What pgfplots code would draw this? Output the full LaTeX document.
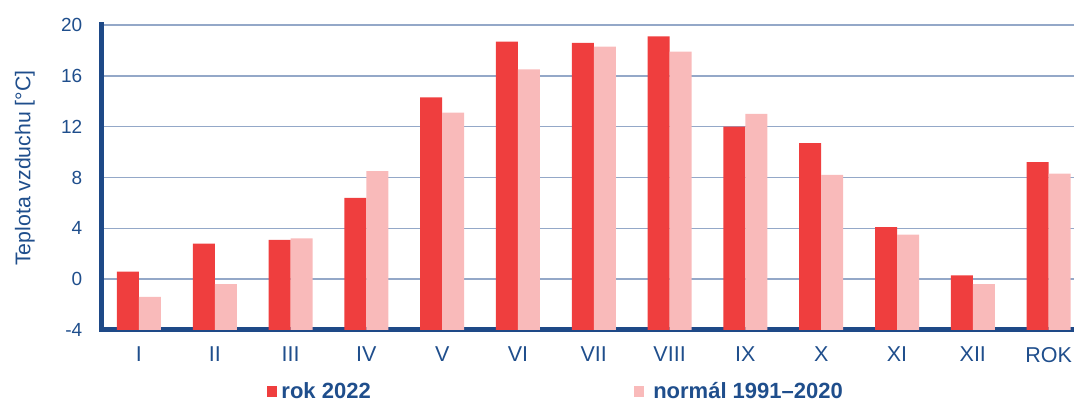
\documentclass[border=0pt]{standalone}
\usepackage{pgfplots}
\pgfplotsset{compat=1.18}
\usepackage{fontspec}
\setmainfont{Liberation Sans}
\definecolor{rokred}{RGB}{239,62,62}
\definecolor{normpink}{RGB}{249,186,186}
\definecolor{axblue}{RGB}{30,73,135}
\definecolor{txtblue}{RGB}{31,78,140}
\definecolor{gridblue}{RGB}{148,168,200}
\begin{document}
\begin{tikzpicture}
\begin{axis}[
  set layers,
  at={(0pt,0pt)}, anchor=south west,
  scale only axis,
  width=973pt, height=305pt,
  xmin=-0.501, xmax=12.335,
  ymin=0, ymax=24,
  y filter/.expression={y+4},
  ytick={0,4,...,24},
  yticklabels={-4,0,4,8,12,16,20},
  xtick={0,...,12},
  xticklabels={I,II,III,IV,V,VI,VII,VIII,IX,X,XI,XII,ROK},
  ybar=0pt, bar width=22pt,
  axis x line*=bottom, axis y line*=left,
  axis line style={draw=axblue, line width=5pt, line cap=rect, /pgfplots/on layer=axis foreground},
  major tick length=0pt,
  ymajorgrids,
  grid style={draw=gridblue, line width=1.4pt},
  yticklabel style={font=\fontsize{19}{19}\selectfont, text=txtblue, inner sep=0pt, anchor=east, xshift=-18.5pt},
  xticklabel style={font=\fontsize{21.5}{21.5}\selectfont, text=txtblue, inner sep=0pt, anchor=north, yshift=-17pt},
  ylabel={Teplota vzduchu [°C]},
  ylabel style={font=\fontsize{21.3}{21.3}\selectfont, text=txtblue, inner sep=0pt, at={(axis description cs:-0.0678,0.531)}, anchor=south},
  legend columns=2,
  legend image code/.code={\fill[#1] (0pt,1pt) rectangle (10.5pt,12pt);},
  legend style={at={(axis description cs:0.1706,-0.2295)}, anchor=south west, draw=none, fill=none,
    inner sep=0pt, outer sep=0pt, font=\bfseries\fontsize{22}{22}\selectfont, text=txtblue,
    cells={anchor=base west}, nodes={inner sep=0pt},
    /tikz/every odd column/.append style={column sep=4pt},
    /tikz/every even column/.append style={column sep=263pt}},
]
\addplot[fill=rokred, draw=none] coordinates {
 (0,0.6) (1,2.8) (2,3.1) (3,6.4) (4,14.3) (5,18.7) (6,18.6) (7,19.1) (8,12.0) (9,10.7) (10,4.1) (11,0.3) (12,9.2)};
\addlegendentry{rok 2022}
\addplot[fill=normpink, draw=none] coordinates {
 (0,-1.4) (1,-0.4) (2,3.2) (3,8.5) (4,13.1) (5,16.5) (6,18.3) (7,17.9) (8,13.0) (9,8.2) (10,3.5) (11,-0.4) (12,8.3)};
\addlegendentry{\hspace{5pt}normál 1991–2020}
\end{axis}
\pgfresetboundingbox
\path[use as bounding box] (-101pt,-71pt) rectangle (973pt,330pt);
\end{tikzpicture}
\end{document}
